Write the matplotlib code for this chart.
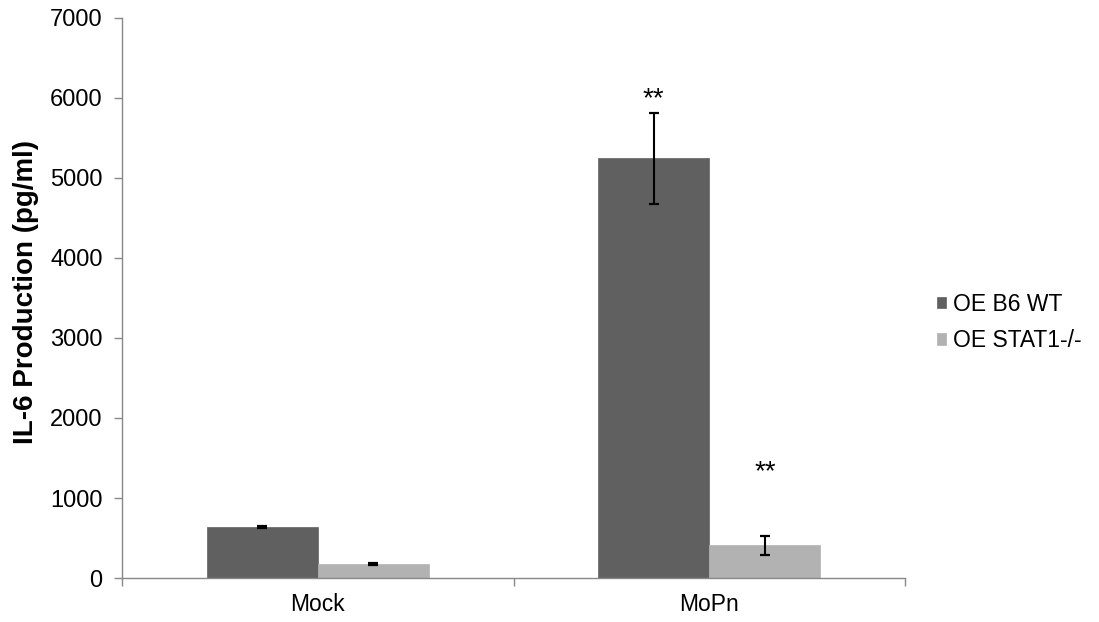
import matplotlib
matplotlib.use("Agg")
import matplotlib.pyplot as plt
import numpy as np

categories = ["Mock", "MoPn"]
series_names = ["OE B6 WT", "OE STAT1-/-"]
wt_values = [640, 5245]
wt_errors = [15, 570]
stat1_values = [175, 408]
stat1_errors = [10, 115]
sig_labels = [["", "**"], ["", "**"]]
sig_heights = [[None, 5990], [None, 1320]]
yticks = [0, 1000, 2000, 3000, 4000, 5000, 6000, 7000]

plt.rcParams['font.family'] = ['Liberation Sans', 'DejaVu Sans']

fig = plt.figure(figsize=(10.99, 6.22), dpi=100)
ax = fig.add_axes([0.111, 0.0707, 0.7125, 0.9005])

x = np.arange(len(categories))
w = 0.284
colors = ["#606060", "#b2b2b2"]
vals = [wt_values, stat1_values]
errs = [wt_errors, stat1_errors]
offs = [-w / 2, w / 2]
for i in range(2):
    ax.bar(x + offs[i], vals[i], width=w, color=colors[i], label=series_names[i],
           edgecolor=colors[i], linewidth=0.5, zorder=2)
    ax.errorbar(x + offs[i], vals[i], yerr=errs[i], fmt='none', ecolor='black',
                elinewidth=1.5, capsize=3.6, capthick=1.6, zorder=3)
    for j in range(len(categories)):
        if sig_labels[i][j]:
            ax.text(x[j] + offs[i], sig_heights[i][j], sig_labels[i][j], ha='center',
                    va='center', fontsize=20, color='black')

ax.set_xlim(-0.5, 1.5)
ax.set_ylim(0, 7000)
ax.set_yticks(yticks)
ax.set_yticklabels([str(t) for t in yticks], fontsize=17)
ax.set_xticks(x)
ax.set_xticklabels(categories, fontsize=16.5)
ax.tick_params(axis='x', length=0, pad=11)
ax.set_xticks([-0.5, 0.5, 1.5], minor=True)
ax.tick_params(axis='x', which='minor', length=6, color='#888888', width=1)
ax.tick_params(axis='y', length=6, color='#888888', width=1, pad=8)
for s in ['top', 'right']:
    ax.spines[s].set_visible(False)
for s in ['left', 'bottom']:
    ax.spines[s].set_color('#888888')
    ax.spines[s].set_linewidth(1)
ax.set_ylabel("IL-6 Production (pg/ml)", fontsize=20, fontweight='bold')
ax.yaxis.set_label_coords(-0.106, 0.51)

fig.legend(loc='center left', bbox_to_anchor=(0.8526, 0.4815), frameon=False,
           fontsize=16.5, handlelength=0.4, handleheight=0.4, handletextpad=0.3,
           labelspacing=0.6, borderpad=0, borderaxespad=0)

fig.savefig("out.png", dpi=100)
